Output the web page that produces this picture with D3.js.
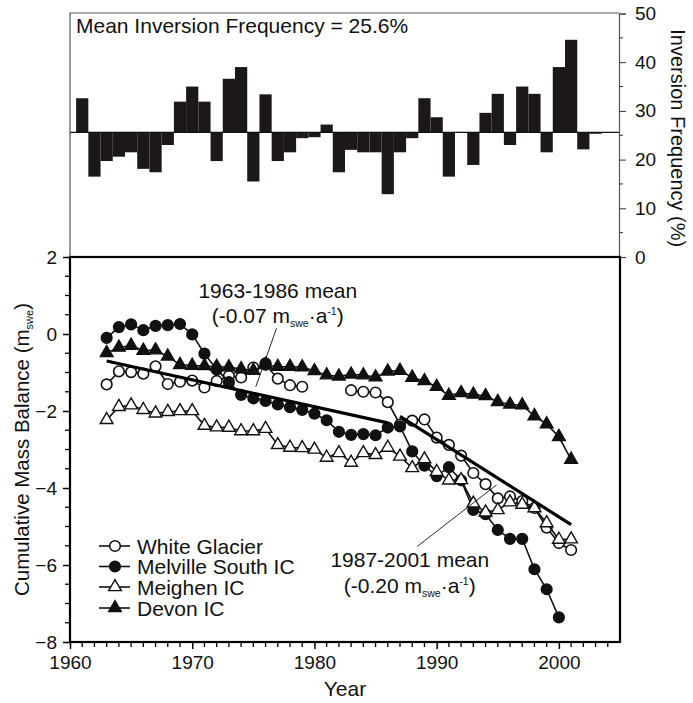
<!DOCTYPE html>
<html><head><meta charset="utf-8">
<script src="https://cdn.jsdelivr.net/npm/d3@7"></script>
<style>body{margin:0;background:#fff} svg text{font-family:Arial,"Liberation Sans",sans-serif;fill:#111}</style>
</head><body><svg id="c" width="693" height="703"></svg>
<script>
// ---------------- DATA ----------------
const years = [1963,1964,1965,1966,1967,1968,1969,1970,1971,1972,1973,1974,1975,1976,1977,1978,1979,1980,1981,1982,1983,1984,1985,1986,1987,1988,1989,1990,1991,1992,1993,1994,1995,1996,1997,1998,1999,2000,2001];
const whiteGlacier = [-1.31,-0.97,-0.99,-1.03,-0.84,-1.30,-1.24,-1.21,-1.39,-1.22,-1.09,-1.13,-0.87,-0.80,-1.16,-1.33,-1.37,null,null,null,-1.46,-1.50,-1.52,-1.77,-2.35,-2.25,-2.22,-2.69,-2.88,-3.16,-3.61,-3.90,-4.27,-4.22,-4.34,-4.52,-5.03,-5.43,-5.61];
const melvilleSouth = [-0.10,0.18,0.25,0.10,0.21,0.23,0.26,-0.01,-0.51,-0.92,-1.25,-1.58,-1.67,-1.74,-1.83,-1.90,-1.97,-2.07,-2.24,-2.54,-2.62,-2.60,-2.63,-2.43,-2.40,-3.05,-3.42,-3.69,-3.46,-3.80,-4.57,-4.68,-5.09,-5.32,-5.32,-6.11,-6.63,-7.36,null];
const melvilleExtraYears = [1976];
const melvilleExtraValues = [-0.76];
const meighen = [-2.23,-1.89,-1.85,-1.97,-2.06,-2.02,-2.00,-2.00,-2.38,-2.42,-2.43,-2.52,-2.52,-2.46,-2.88,-2.95,-2.96,-3.00,-3.21,-3.09,-3.34,-3.09,-3.14,-2.95,-3.18,-3.48,-3.25,-3.58,-3.80,-3.79,-4.40,-4.63,-4.57,-4.37,-4.43,-4.52,-4.91,-5.34,-5.33];
const devon = [-0.49,-0.35,-0.30,-0.43,-0.42,-0.58,-0.80,-0.82,-0.83,-0.85,-0.86,-0.91,-0.95,-0.80,-0.85,-0.85,-0.86,-0.96,-1.07,-1.10,-1.05,-1.07,-1.12,-0.97,-0.95,-1.13,-1.22,-1.37,-1.60,-1.53,-1.57,-1.61,-1.76,-1.83,-1.85,-2.13,-2.34,-2.67,-3.26];
const seriesNames = ["White Glacier","Melville South IC","Meighen IC","Devon IC"];

const trend1Years = [1963, 1986];
const trend1Values = [-0.70, -2.31];
const trend2Years = [1987, 2001];
const trend2Values = [-2.14, -4.95];

const barYears = [1961,1962,1963,1964,1965,1966,1967,1968,1969,1970,1971,1972,1973,1974,1975,1976,1977,1978,1979,1980,1981,1982,1983,1984,1985,1986,1987,1988,1989,1990,1991,1992,1993,1994,1995,1996,1997,1998,1999,2000,2001,2002,2003];
const inversionFreq = [32.6,16.5,19.7,20.6,21.5,18.1,17.4,23.0,31.9,35.0,31.9,19.7,36.6,39.0,15.5,33.4,19.7,21.5,24.4,24.6,27.2,17.4,22.0,21.5,21.5,12.9,21.5,24.4,32.6,28.7,16.5,25.5,18.9,29.6,33.5,23.0,35.0,33.5,21.5,39.0,44.6,22.1,25.3];
const meanInversion = 25.6;

const massTicks = [2,0,-2,-4,-6,-8];
const freqTicks = [0,10,20,30,40,50];
const yearTicks = [1960,1970,1980,1990,2000];

// ---------------- LAYOUT ----------------
const svg = d3.select("#c");
const x = d3.scaleLinear().domain([1960, 2005]).range([70, 620]);
const yM = d3.scaleLinear().domain([-8, 2]).range([642, 257]);
const yF = d3.scaleLinear().domain([0, 50]).range([257, 13.5]);
const fs = 19;
const fl = 21;

// ---------- TOP PANEL ----------
const topG = svg.append("g");
topG.selectAll("rect.bar").data(barYears.map((yr,i)=>({yr, v: inversionFreq[i]})))
  .join("rect").attr("class","bar")
  .attr("x", d => x(d.yr - 0.5))
  .attr("width", d => x(d.yr + 0.5) - x(d.yr - 0.5))
  .attr("y", d => Math.min(yF(d.v), yF(meanInversion)))
  .attr("height", d => Math.abs(yF(d.v) - yF(meanInversion)))
  .attr("fill", "#1c1818");
topG.append("line").attr("x1", x(1960)).attr("x2", x(2005))
  .attr("y1", yF(meanInversion)).attr("y2", yF(meanInversion))
  .attr("stroke", "#111").attr("stroke-width", 1.3);
topG.append("path").attr("d", `M${x(1960)},${yF(0)}V${yF(50)-0.5}H${x(2005)-1}`)
  .attr("fill","none").attr("stroke","#555").attr("stroke-width",1.2);
const rAxis = d3.axisRight(yF).tickValues(freqTicks).tickSize(7).tickPadding(9);
const gR = topG.append("g").attr("transform", `translate(${x(2005)-1},0)`).call(rAxis);
gR.select(".domain").attr("stroke","#555").attr("stroke-width",1.2);
gR.selectAll(".tick line").attr("stroke","#333");
gR.selectAll("text").attr("font-size", fs).attr("fill","#111");
topG.selectAll("line.fminor").data([5,15,25,35,45]).join("line").attr("class","fminor")
  .attr("x1", x(2005)-1).attr("x2", x(2005)+3).attr("y1", d=>yF(d)).attr("y2", d=>yF(d))
  .attr("stroke","#333");
topG.append("text").attr("x", 76).attr("y", 33).attr("font-size", fl)
  .text("Mean Inversion Frequency = " + meanInversion + "%");
topG.append("text").attr("transform", `translate(671,${(yF(0)+yF(50))/2+3}) rotate(90)`)
  .attr("text-anchor","middle").attr("font-size", 20).text("Inversion Frequency (%)");

// ---------- BOTTOM PANEL ----------
const bot = svg.append("g");
const xAxis = d3.axisBottom(x).tickValues(yearTicks).tickSize(7).tickPadding(7).tickFormat(d3.format("d"));
const gX = bot.append("g").attr("transform", `translate(0,${yM(-8)})`).call(xAxis);
gX.select(".domain").remove();
gX.selectAll(".tick line").attr("stroke","#000").attr("stroke-width",1.5);
gX.selectAll("text").attr("font-size", fs).attr("fill","#111");
const minorYears = d3.range(1961, 2005).filter(d => d % 10 !== 0);
bot.selectAll("line.xminor").data(minorYears).join("line").attr("class","xminor")
  .attr("x1", d=>x(d)).attr("x2", d=>x(d)).attr("y1", yM(-8)).attr("y2", yM(-8)+5)
  .attr("stroke","#000").attr("stroke-width",1.3);

const yAxis = d3.axisLeft(yM).tickValues(massTicks).tickSize(7).tickPadding(6).tickFormat(d3.format("d"));
const gY = bot.append("g").attr("transform", `translate(${x(1960)},0)`).call(yAxis);
gY.select(".domain").remove();
gY.selectAll(".tick line").attr("stroke","#000").attr("stroke-width",1.5);
gY.selectAll("text").attr("font-size", fs).attr("fill","#111");
const minorMass = d3.range(-7.5, 2, 0.5).filter(d => d % 2 !== 0);
bot.selectAll("line.yminor").data(minorMass).join("line").attr("class","yminor")
  .attr("x1", x(1960)-5).attr("x2", x(1960)).attr("y1", d=>yM(d)).attr("y2", d=>yM(d))
  .attr("stroke","#000").attr("stroke-width",1.3);

bot.append("rect").attr("x", x(1960)).attr("y", yM(2)).attr("width", x(2005)-x(1960))
  .attr("height", yM(-8)-yM(2)).attr("fill","none").attr("stroke","#000").attr("stroke-width",2.2);

bot.append("text").attr("x", (x(1960)+x(2005))/2).attr("y", 696).attr("text-anchor","middle")
  .attr("font-size", fl).text("Year");
const yt = bot.append("text").attr("transform", `translate(29,${(yM(-8)+yM(2))/2}) rotate(-90)`)
  .attr("text-anchor","middle").attr("font-size", 20.5);
yt.append("tspan").text("Cumulative Mass Balance (m");
yt.append("tspan").attr("font-size", 11).attr("dy", 4).text("swe");
yt.append("tspan").attr("dy", -4).text(")");

const seriesData = [whiteGlacier, melvilleSouth, meighen, devon].map(arr => years.map((yr,i)=>({yr, v: arr[i]})));
const line = d3.line().defined(d => d.v !== null).x(d => x(d.yr)).y(d => yM(d.v));
const markerType = ["circle","circle","triangle","triangle"];
const markerFill = ["#fff","#111","#fff","#111"];
const tri = d3.symbol().type(d3.symbolTriangle).size(70);

function drawMarker(g, type, fill, px, py) {
  if (type === "circle") {
    g.append("circle").attr("cx", px).attr("cy", py).attr("r", 5.3)
      .attr("fill", fill).attr("stroke","#111").attr("stroke-width",1.6);
  } else {
    g.append("path").attr("d", tri()).attr("transform", `translate(${px},${py})`)
      .attr("fill", fill).attr("stroke","#111").attr("stroke-width",1.4);
  }
}

seriesData.forEach((data, si) => {
  const g = bot.append("g");
  g.append("path").attr("d", line(data)).attr("fill","none").attr("stroke","#111").attr("stroke-width",1.6);
  data.filter(d => d.v !== null).forEach(d => drawMarker(g, markerType[si], markerFill[si], x(d.yr), yM(d.v)));
});
// isolated Melville point
const gExtra = bot.append("g");
melvilleExtraYears.forEach((yr, i) => drawMarker(gExtra, "circle", "#111", x(yr), yM(melvilleExtraValues[i])));

[[trend1Years, trend1Values],[trend2Years, trend2Values]].forEach(([ys, vs]) => {
  bot.append("line").attr("x1", x(ys[0])).attr("x2", x(ys[1]))
    .attr("y1", yM(vs[0])).attr("y2", yM(vs[1]))
    .attr("stroke","#000").attr("stroke-width",3.2);
});

function rateText(cx, by, rate) {
  const t = bot.append("text").attr("x", cx).attr("y", by).attr("text-anchor","middle").attr("font-size", fl);
  t.append("tspan").text("(" + rate + " m");
  t.append("tspan").attr("font-size", 10.5).attr("dy", 4).text("swe");
  t.append("tspan").attr("dy", -4).text("·a");
  t.append("tspan").attr("font-size", 10.5).attr("dy", -8).text("-1");
  t.append("tspan").attr("dy", 8).text(")");
}
bot.append("text").attr("x", x(1977)).attr("y", yM(0.94)).attr("text-anchor","middle").attr("font-size", fl).text("1963-1986 mean");
rateText(x(1977), yM(0.29), "-0.07");
bot.append("line").attr("x1", x(1976.9)).attr("y1", yM(0.15)).attr("x2", x(1975.2)).attr("y2", yM(-1.37))
  .attr("stroke","#111").attr("stroke-width",0.9);

bot.append("text").attr("x", x(1987.8)).attr("y", yM(-6.04)).attr("text-anchor","middle").attr("font-size", fl).text("1987-2001 mean");
rateText(x(1987.8), yM(-6.72), "-0.20");
bot.append("line").attr("x1", x(1988.4)).attr("y1", yM(-5.52)).attr("x2", x(1994.9)).attr("y2", yM(-3.92))
  .attr("stroke","#111").attr("stroke-width",0.9);

const legY = [546, 566.5, 587, 608];
seriesNames.forEach((name, i) => {
  const g = bot.append("g");
  g.append("line").attr("x1", 99).attr("x2", 130).attr("y1", legY[i]).attr("y2", legY[i])
    .attr("stroke","#111").attr("stroke-width",1.6);
  drawMarker(g, markerType[i], markerFill[i], 115, legY[i]);
  g.append("text").attr("x", 137).attr("y", legY[i] + 7.5).attr("font-size", fl).text(name);
});
</script></body></html>
